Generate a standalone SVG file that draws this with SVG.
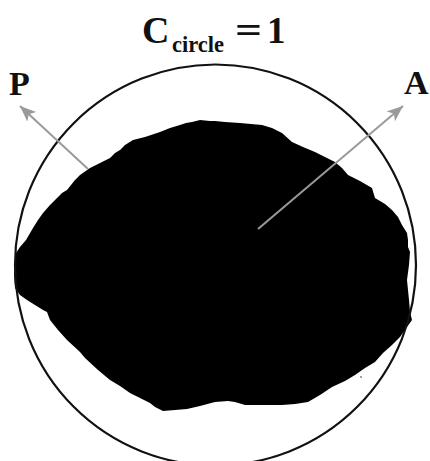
<svg xmlns="http://www.w3.org/2000/svg" width="430" height="461" viewBox="0 0 430 461">
<style>
.lbl{font-family:"Liberation Serif","Times New Roman",serif;font-weight:bold;fill:#111}
.arr{stroke:#9a9a9a;stroke-width:2;fill:none}
</style>
<defs>
<marker id="ah" markerUnits="userSpaceOnUse" markerWidth="18" markerHeight="14" refX="16" refY="6.5" orient="auto">
<path d="M0,0 L16,6.5 L0,13 L4,6.5 Z" fill="#9a9a9a"/>
</marker>
</defs>
<rect width="430" height="461" fill="#fff"/>
<g id="blob">
<polygon fill="#000" points="192,122 200,120 210,121 215,121 225,122 240,123 262,125 272,128 282,133 292,142 303,147 315,152 335,162 342,168 348,175 360,181 372,188 375,198 385,204 392,210 398,217 402,225 407,233 408,240 408,247 410,252 409,265 407,280 408,290 409,300 410,312 412,320 407,327 400,337 392,345 383,353 375,362 365,368 355,375 345,381 332,387 320,395 308,402 295,404 282,405 260,405 245,405 235,402 228,401 215,402 200,406 187,409 175,410 163,411 155,407 150,403 140,398 130,393 120,386 110,380 98,370 85,358 80,352 67,340 58,330 50,320 47,312 43,310 35,305 27,300 20,295 15,288 14,275 15,260 16,253 20,247 26,240 33,228 38,220 43,213 50,205 57,198 62,193 67,190 75,180 80,175 90,168 100,163 110,158 115,153 120,150 125,145 133,140 145,137 160,132 170,128 180,125 186,123"/>
<circle cx="361" cy="377" r="1" fill="#888"/>
</g>
<g id="circle">
<circle cx="215.5" cy="265" r="200.5" fill="none" stroke="#111" stroke-width="2.2"/>
</g>
<g id="connectors">
<line class="arr" x1="88" y1="169" x2="20" y2="106" marker-end="url(#ah)"/>
<line class="arr" x1="258" y1="229" x2="403" y2="106" marker-end="url(#ah)"/>
</g>
<g id="title">
<text class="lbl" x="142" y="43" font-size="38">C</text>
<text class="lbl" x="172" y="52" font-size="24" textLength="52" lengthAdjust="spacingAndGlyphs">circle</text>
<text class="lbl" x="235" y="43" font-size="38" textLength="27" lengthAdjust="spacingAndGlyphs">=</text>
<text class="lbl" x="267" y="43" font-size="37">1</text>
</g>
<g id="label-P">
<text class="lbl" x="9" y="95" font-size="34">P</text>
</g>
<g id="label-A">
<text class="lbl" x="404" y="94" font-size="34">A</text>
</g>
</svg>
